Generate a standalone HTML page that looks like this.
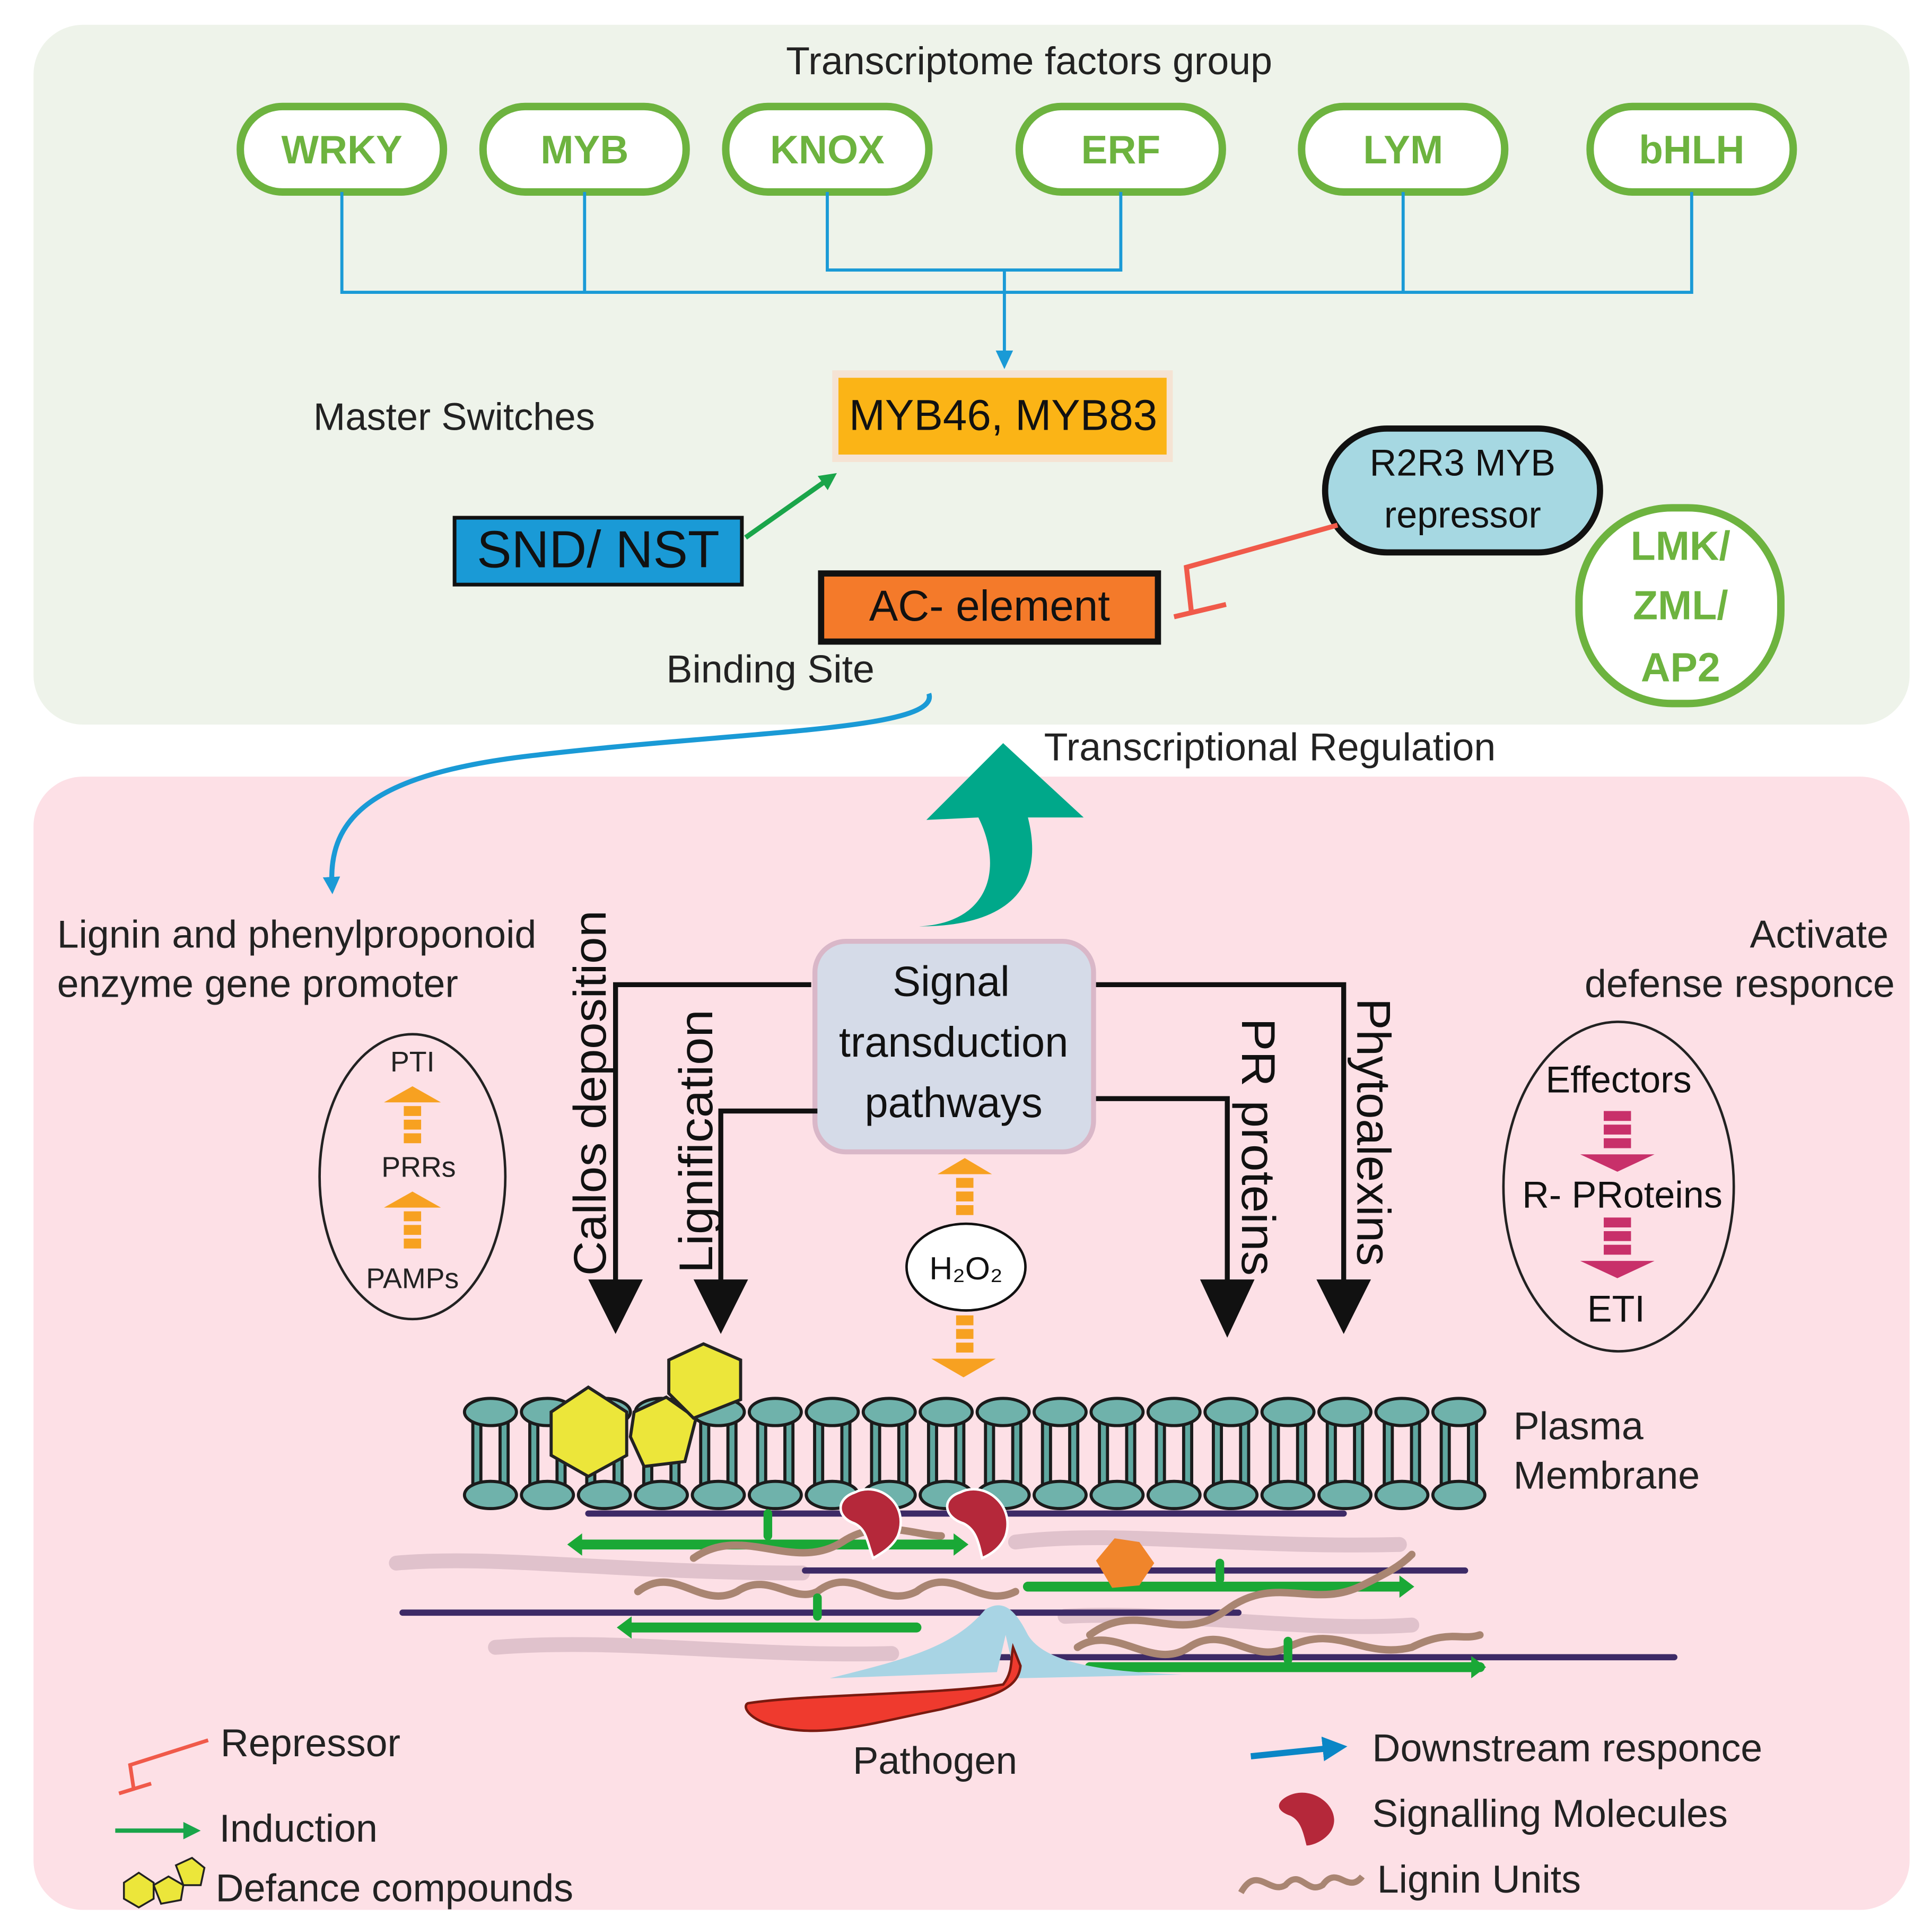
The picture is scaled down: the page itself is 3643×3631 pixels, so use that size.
<!DOCTYPE html>
<html><head><meta charset="utf-8"><style>html,body{margin:0;padding:0;background:#fff}svg{display:block}text{font-family:"Liberation Sans",sans-serif}</style></head><body>
<svg width="3643" height="3631" viewBox="0 0 1560 1555" xmlns="http://www.w3.org/2000/svg">
<defs>
<marker id="ab" markerWidth="8" markerHeight="8" refX="4" refY="4" orient="auto" markerUnits="userSpaceOnUse"><path d="M0,0 L8,4 L0,8z" fill="#1a9ad6"/></marker>
<marker id="ag" markerWidth="14" markerHeight="14" refX="7" refY="7" orient="auto" markerUnits="userSpaceOnUse"><path d="M0,0 L14,7 L0,14z" fill="#1aa54a"/></marker>
<marker id="ab2" markerWidth="14" markerHeight="14" refX="7" refY="7" orient="auto" markerUnits="userSpaceOnUse"><path d="M0,0 L14,7 L0,14z" fill="#1a9ad6"/></marker>
<marker id="ab3" markerWidth="20" markerHeight="20" refX="10" refY="10" orient="auto" markerUnits="userSpaceOnUse"><path d="M0,0 L20,10 L0,20z" fill="#0a86c6"/></marker>
</defs>
<rect width="1560" height="1555" fill="#fff"/>
<rect x="27" y="20" width="1515" height="565" rx="40" fill="#eef3ea"/>
<rect x="27" y="627" width="1515" height="915" rx="40" fill="#fde0e6"/>
<text x="831" y="60" font-size="31.5" text-anchor="middle" fill="#222">Transcriptome factors group</text>
<g fill="#fff" stroke="#6db33f" stroke-width="6">
<rect x="194" y="86" width="164" height="69" rx="34"/><rect x="390" y="86" width="164" height="69" rx="34"/><rect x="586" y="86" width="164" height="69" rx="34"/><rect x="823" y="86" width="164" height="69" rx="34"/><rect x="1051" y="86" width="164" height="69" rx="34"/><rect x="1284" y="86" width="164" height="69" rx="34"/>
</g>
<g font-size="32" font-weight="bold" fill="#6db33f" text-anchor="middle">
<text x="276" y="132">WRKY</text><text x="472" y="132">MYB</text><text x="668" y="132">KNOX</text><text x="905" y="132">ERF</text><text x="1133" y="132">LYM</text><text x="1366" y="132">bHLH</text>
</g>
<g stroke="#1a9ad6" stroke-width="2.5" fill="none">
<path d="M276 155V236H1366V155M472 155V236M1133 155V236M668 155V218H905V155M811 218V290" marker-end="url(#ab)"/>
</g>
<path d="M804 283 L818 283 L811 298z" fill="#1a9ad6"/>
<rect x="672" y="299" width="275" height="74" fill="#f8dccb" opacity=".7"/>
<rect x="677" y="305" width="265" height="62" fill="#fbb416"/>
<text x="810" y="347" font-size="35" text-anchor="middle" fill="#111">MYB46, MYB83</text>
<text x="253" y="347" font-size="31" fill="#222">Master Switches</text>
<rect x="367" y="418" width="232" height="54" fill="#1a9ad6" stroke="#111" stroke-width="3"/>
<text x="483" y="458" font-size="42" text-anchor="middle" fill="#111">SND/ NST</text>
<line x1="602" y1="434" x2="670" y2="386" stroke="#1aa54a" stroke-width="4" marker-end="url(#ag)"/>
<rect x="663" y="463" width="272" height="55" fill="#f47a2a" stroke="#111" stroke-width="5"/>
<text x="799" y="501" font-size="35" text-anchor="middle" fill="#111">AC- element</text>
<text x="538" y="551" font-size="31.5" fill="#222">Binding Site</text>
<rect x="1070" y="346" width="222" height="100" rx="50" fill="#a6d8e2" stroke="#111" stroke-width="5"/>
<text x="1181" y="384" font-size="30" text-anchor="middle" fill="#111">R2R3 MYB</text>
<text x="1181" y="426" font-size="30" text-anchor="middle" fill="#111">repressor</text>
<path d="M1080 424 L958 458 L962 494 M948 498 L990 488" stroke="#f05a4a" stroke-width="4" fill="none"/>
<rect x="1275" y="410" width="163" height="158" rx="75" fill="#fff" stroke="#6db33f" stroke-width="6"/>
<g font-size="33" font-weight="bold" fill="#6db33f" text-anchor="middle"><text x="1357" y="452">LMK/</text><text x="1357" y="500">ZML/</text><text x="1357" y="550">AP2</text></g>
<path d="M750 560 C760 590 600 590 430 610 C300 625 265 660 268 715" stroke="#1a9ad6" stroke-width="4" fill="none" marker-end="url(#ab2)"/>
<text x="843" y="614" font-size="31.5" fill="#222">Transcriptional Regulation</text>
<path d="M742 748 C800 745 810 700 790 660 L748 662 L810 600 L875 660 L830 660 C845 720 810 748 742 748z" fill="#00a88a"/>
<text x="46" y="765" font-size="31.5" fill="#222">Lignin and phenylproponoid</text>
<text x="46" y="805" font-size="31.5" fill="#222">enzyme gene promoter</text>
<text x="1525" y="765" font-size="31.5" text-anchor="end" fill="#222">Activate</text>
<text x="1530" y="805" font-size="31.5" text-anchor="end" fill="#222">defense responce</text>
<ellipse cx="333" cy="950" rx="75" ry="115" fill="none" stroke="#222" stroke-width="2"/>
<g font-size="23" text-anchor="middle" fill="#222"><text x="333" y="865">PTI</text><text x="338" y="950">PRRs</text><text x="333" y="1040">PAMPs</text></g>
<g fill="#f7a121">
<path d="M310 890 L333 877 L356 890z"/><rect x="326" y="893" width="14" height="8"/><rect x="326" y="904" width="14" height="8"/><rect x="326" y="915" width="14" height="8"/>
<path d="M310 975 L333 962 L356 975z"/><rect x="326" y="978" width="14" height="8"/><rect x="326" y="989" width="14" height="8"/><rect x="326" y="1000" width="14" height="8"/>
</g>
<rect x="658" y="760" width="225" height="170" rx="25" fill="#d5dbe8" stroke="#d9b7c8" stroke-width="4"/>
<g font-size="34" text-anchor="middle" fill="#111"><text x="768" y="804">Signal</text><text x="770" y="853">transduction</text><text x="770" y="902">pathways</text></g>
<g stroke="#111" stroke-width="4" fill="none">
<path d="M655 795H497V1040M660 897H582V1040M885 795H1085V1040M885 887H991V1040"/>
</g>
<g fill="#111">
<path d="M475 1033 L519 1033 L497 1077z"/><path d="M560 1033 L604 1033 L582 1077z"/><path d="M1063 1033 L1107 1033 L1085 1077z"/><path d="M969 1033 L1013 1033 L991 1080z"/>
</g>
<g fill="#111">
<text transform="translate(489 1030) rotate(-90)" font-size="37" textLength="295" lengthAdjust="spacingAndGlyphs">Callos deposition</text>
<text transform="translate(575 1028) rotate(-90)" font-size="38" textLength="213" lengthAdjust="spacingAndGlyphs">Lignification</text>
<text transform="translate(1003 822) rotate(90)" font-size="38" textLength="208" lengthAdjust="spacingAndGlyphs">PR proteins</text>
<text transform="translate(1096 806) rotate(90)" font-size="38" textLength="216" lengthAdjust="spacingAndGlyphs">Phytoalexins</text>
</g>
<g fill="#f7a121">
<path d="M757 948 L779 935 L801 948z"/><rect x="772" y="951" width="14" height="8"/><rect x="772" y="962" width="14" height="8"/><rect x="772" y="973" width="14" height="8"/>
<rect x="772" y="1062" width="14" height="8"/><rect x="772" y="1073" width="14" height="8"/><rect x="772" y="1084" width="14" height="8"/><path d="M752 1097 L804 1097 L778 1112z"/>
</g>
<ellipse cx="780" cy="1023" rx="48" ry="35" fill="#fff" stroke="#111" stroke-width="2"/>
<text x="780" y="1033" font-size="26" text-anchor="middle" fill="#111">H₂O₂</text>
<ellipse cx="1307" cy="958" rx="93" ry="133" fill="none" stroke="#222" stroke-width="2"/>
<g font-size="30" text-anchor="middle" fill="#111"><text x="1307" y="882">Effectors</text><text x="1310" y="975">R- PRoteins</text><text x="1305" y="1067">ETI</text></g>
<g fill="#c8306a">
<rect x="1295" y="897" width="22" height="8"/><rect x="1295" y="908" width="22" height="8"/><rect x="1295" y="919" width="22" height="8"/><path d="M1276 932 L1336 932 L1306 946z"/>
<rect x="1295" y="983" width="22" height="8"/><rect x="1295" y="994" width="22" height="8"/><rect x="1295" y="1005" width="22" height="8"/><path d="M1276 1018 L1336 1018 L1306 1032z"/>
</g>
<g stroke="#1b1b1b" stroke-width="2.5">
<g fill="none" stroke="#1b1b1b" stroke-width="9">
<path d="M385 1148V1200M407 1148V1200M431 1148V1200M453 1148V1200M477 1148V1200M499 1148V1200M523 1148V1200M545 1148V1200M569 1148V1200M591 1148V1200M615 1148V1200M637 1148V1200M661 1148V1200M683 1148V1200M707 1148V1200M729 1148V1200M753 1148V1200M775 1148V1200M799 1148V1200M821 1148V1200M845 1148V1200M867 1148V1200M891 1148V1200M913 1148V1200M937 1148V1200M959 1148V1200M983 1148V1200M1005 1148V1200M1029 1148V1200M1051 1148V1200M1075 1148V1200M1097 1148V1200M1121 1148V1200M1143 1148V1200M1167 1148V1200M1189 1148V1200"/>
</g>
<g fill="none" stroke="#5fa8a0" stroke-width="4">
<path d="M385 1148V1200M407 1148V1200M431 1148V1200M453 1148V1200M477 1148V1200M499 1148V1200M523 1148V1200M545 1148V1200M569 1148V1200M591 1148V1200M615 1148V1200M637 1148V1200M661 1148V1200M683 1148V1200M707 1148V1200M729 1148V1200M753 1148V1200M775 1148V1200M799 1148V1200M821 1148V1200M845 1148V1200M867 1148V1200M891 1148V1200M913 1148V1200M937 1148V1200M959 1148V1200M983 1148V1200M1005 1148V1200M1029 1148V1200M1051 1148V1200M1075 1148V1200M1097 1148V1200M1121 1148V1200M1143 1148V1200M1167 1148V1200M1189 1148V1200"/>
</g>
<g fill="#6fb2ab">
<ellipse cx="396" cy="1140" rx="21" ry="11"/><ellipse cx="442" cy="1140" rx="21" ry="11"/><ellipse cx="488" cy="1140" rx="21" ry="11"/><ellipse cx="534" cy="1140" rx="21" ry="11"/><ellipse cx="580" cy="1140" rx="21" ry="11"/><ellipse cx="626" cy="1140" rx="21" ry="11"/><ellipse cx="672" cy="1140" rx="21" ry="11"/><ellipse cx="718" cy="1140" rx="21" ry="11"/><ellipse cx="764" cy="1140" rx="21" ry="11"/><ellipse cx="810" cy="1140" rx="21" ry="11"/><ellipse cx="856" cy="1140" rx="21" ry="11"/><ellipse cx="902" cy="1140" rx="21" ry="11"/><ellipse cx="948" cy="1140" rx="21" ry="11"/><ellipse cx="994" cy="1140" rx="21" ry="11"/><ellipse cx="1040" cy="1140" rx="21" ry="11"/><ellipse cx="1086" cy="1140" rx="21" ry="11"/><ellipse cx="1132" cy="1140" rx="21" ry="11"/><ellipse cx="1178" cy="1140" rx="21" ry="11"/>
<ellipse cx="396" cy="1207" rx="21" ry="11"/><ellipse cx="442" cy="1207" rx="21" ry="11"/><ellipse cx="488" cy="1207" rx="21" ry="11"/><ellipse cx="534" cy="1207" rx="21" ry="11"/><ellipse cx="580" cy="1207" rx="21" ry="11"/><ellipse cx="626" cy="1207" rx="21" ry="11"/><ellipse cx="672" cy="1207" rx="21" ry="11"/><ellipse cx="718" cy="1207" rx="21" ry="11"/><ellipse cx="764" cy="1207" rx="21" ry="11"/><ellipse cx="810" cy="1207" rx="21" ry="11"/><ellipse cx="856" cy="1207" rx="21" ry="11"/><ellipse cx="902" cy="1207" rx="21" ry="11"/><ellipse cx="948" cy="1207" rx="21" ry="11"/><ellipse cx="994" cy="1207" rx="21" ry="11"/><ellipse cx="1040" cy="1207" rx="21" ry="11"/><ellipse cx="1086" cy="1207" rx="21" ry="11"/><ellipse cx="1132" cy="1207" rx="21" ry="11"/><ellipse cx="1178" cy="1207" rx="21" ry="11"/>
</g>
</g>
<g fill="#ece63a" stroke="#222" stroke-width="2.5">
<path d="M445 1140 L475 1120 L506 1140 L506 1175 L475 1192 L445 1175z"/>
<path d="M512 1140 L538 1128 L562 1145 L553 1180 L520 1184 L509 1160z"/>
<path d="M540 1098 L568 1085 L598 1098 L598 1130 L560 1145 L540 1125z"/>
</g>
<text x="1222" y="1162" font-size="31.5" fill="#222">Plasma</text>
<text x="1222" y="1202" font-size="31.5" fill="#222">Membrane</text>
<g stroke-linecap="round" fill="none">
<path d="M320 1262 C400 1255 500 1270 648 1270" stroke="#e0c2cc" stroke-width="12"/>
<path d="M820 1245 C900 1235 1000 1250 1130 1247" stroke="#e0c2cc" stroke-width="12"/>
<path d="M400 1330 C500 1322 600 1338 720 1335" stroke="#e0c2cc" stroke-width="12"/>
<path d="M860 1305 C950 1300 1050 1318 1140 1312" stroke="#e0c2cc" stroke-width="12"/>
<path d="M475 1222H1085M650 1268H1183M325 1302H1000M740 1338H1352" stroke="#3d2a66" stroke-width="5"/>
<path d="M465 1247H775M830 1281H1135M505 1314H740M880 1346H1195" stroke="#1aa836" stroke-width="8"/>
<path d="M560 1258 C600 1230 640 1270 680 1245 C710 1225 740 1240 760 1240" stroke="#a98572" stroke-width="6"/>
<path d="M515 1285 C545 1262 565 1300 595 1285 C620 1268 640 1295 660 1285 C690 1262 710 1300 740 1285 C770 1262 790 1300 820 1285" stroke="#a98572" stroke-width="6"/>
<path d="M880 1320 C920 1290 950 1330 990 1300 C1030 1270 1060 1300 1100 1280 C1120 1270 1130 1265 1140 1255" stroke="#a98572" stroke-width="6"/>
<path d="M870 1330 C900 1310 930 1350 960 1330 C990 1310 1010 1345 1040 1330 C1080 1310 1100 1340 1140 1330 C1170 1315 1180 1325 1195 1320" stroke="#a98572" stroke-width="6"/>
<path d="M620 1240V1222M660 1305V1290M985 1275V1262M1040 1340V1325" stroke="#1aa836" stroke-width="7"/>
</g>
<g fill="#1aa836"><path d="M458 1247 L470 1238 L470 1256z"/><path d="M782 1247 L770 1238 L770 1256z"/><path d="M1142 1281 L1130 1272 L1130 1290z"/><path d="M498 1314 L510 1305 L510 1323z"/><path d="M1200 1346 L1188 1337 L1188 1355z"/></g>
<path d="M885 1260 L900 1242 L920 1245 L932 1262 L920 1280 L898 1282z" fill="#f0852b"/>
<path d="M670 1355 C730 1340 770 1330 795 1300 C810 1290 820 1300 830 1320 C845 1345 900 1350 955 1352 L820 1355 L812 1320 L805 1350 Z" fill="#a8d4e4"/>
<path d="M605 1375 C650 1368 760 1368 810 1360 C818 1350 816 1340 818 1330 L824 1345 C822 1365 800 1370 760 1380 C700 1392 660 1405 620 1392 C600 1385 600 1375 605 1375z" fill="#ef3a2e" stroke="#7a1a10" stroke-width="2"/>
<g fill="#b5283a" stroke="#fff" stroke-width="2">
<path d="M690 1205 C710 1195 735 1215 725 1240 C720 1250 710 1255 705 1258 C700 1245 700 1235 690 1230 C675 1225 675 1210 690 1205z"/>
<path d="M775 1205 C795 1195 820 1215 812 1240 C808 1250 800 1255 793 1258 C790 1245 788 1235 778 1230 C762 1225 760 1210 775 1205z"/>
</g>
<text x="755" y="1432" font-size="31" text-anchor="middle" fill="#222">Pathogen</text>
<path d="M168 1405 L105 1425 L108 1445 M96 1448 L122 1440" stroke="#f05a4a" stroke-width="3" fill="none"/>
<text x="178" y="1418" font-size="31.5" fill="#222">Repressor</text>
<line x1="93" y1="1478" x2="155" y2="1478" stroke="#1aa54a" stroke-width="3.5" marker-end="url(#ag)"/>
<text x="177" y="1487" font-size="31.5" fill="#222">Induction</text>
<g fill="#ece63a" stroke="#222" stroke-width="1.5"><path d="M100 1520 L112 1512 L124 1520 L124 1533 L112 1540 L100 1533z"/><path d="M124 1522 L136 1515 L148 1522 L146 1534 L130 1537z"/><path d="M142 1506 L155 1500 L165 1508 L162 1522 L148 1522z"/></g>
<text x="174" y="1535" font-size="31.5" fill="#222">Defance compounds</text>
<line x1="1010" y1="1418" x2="1078" y2="1411" stroke="#0a86c6" stroke-width="5" marker-end="url(#ab3)"/>
<text x="1108" y="1422" font-size="31.5" fill="#222">Downstream responce</text>
<path d="M1040 1450 C1060 1440 1085 1460 1075 1478 C1070 1486 1060 1490 1055 1490 C1052 1478 1050 1470 1042 1466 C1030 1462 1030 1455 1040 1450z" fill="#b5283a"/>
<text x="1108" y="1475" font-size="31.5" fill="#222">Signalling Molecules</text>
<path d="M1002 1528 C1015 1505 1025 1530 1038 1522 C1050 1508 1055 1530 1068 1522 C1080 1505 1088 1530 1100 1515" stroke="#a98572" stroke-width="5" fill="none"/>
<text x="1112" y="1528" font-size="31.5" fill="#222">Lignin Units</text>
</svg>
</body></html>
